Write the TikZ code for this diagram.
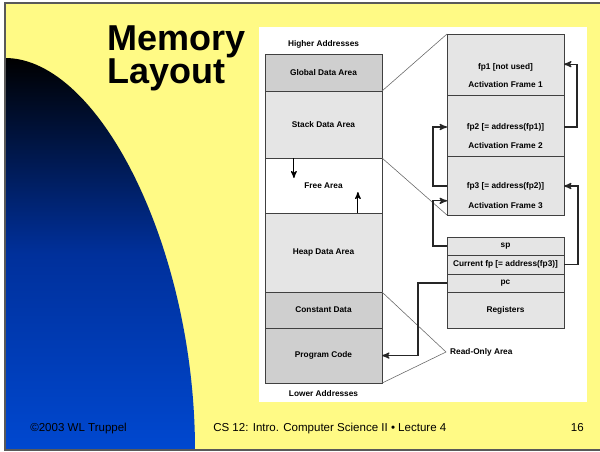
\documentclass[tikz,border=0pt]{standalone}
\usepackage{fontspec}
\setmainfont{Liberation Sans}
\usetikzlibrary{arrows}
\usetikzlibrary{positioning}
\newcommand{\cellfont}{\fontsize{5.9}{7}\selectfont\bfseries}
\definecolor{slideyellow}{RGB}{255,250,133}
\definecolor{slideblue}{RGB}{0,72,208}
\tikzset{
    tnode/.style = {align=center, inner sep=0pt, outer sep=0pt, text centered, font=\cellfont},
    cell/.style = {tnode, rectangle, draw=black!75, line width=0.5pt, minimum width=2.925cm},
    gray_cell/.style = {cell, fill=black!19},
    light_cell/.style = {cell, fill=black!10},
    white_cell/.style = {cell, fill=white},
    link/.style = {->, >=stealth', line width=0.9pt, draw=black!85},
    zoom_line/.style = {draw=black!60, line width=0.4pt},
    foot/.style = {inner sep=0pt, anchor=base west, font=\fontsize{8.2}{9}\selectfont}
}
\begin{document}
\begin{tikzpicture}[x=0.025cm, y=-0.025cm]
    \useasboundingbox (0,0) rectangle (600,452);
    \fill[white] (0,0) rectangle (600,452);
    \fill[slideyellow] (5,3) rectangle (600,450);
    \shade[top color=black, bottom color=slideblue, middle color={rgb,255:red,0;green,48;blue,155}]
        (5,450) -- (5,58) .. controls (100,58) and (195,250) .. (195,450) -- cycle;
    \draw[black!65, line width=1pt] (600,3) -- (5,3) -- (5,450) -- (600,450);
    \fill[white] (259,27) rectangle (587,402);

    \node[inner sep=0pt, anchor=north west, align=left, font=\fontsize{25.6}{19.8}\selectfont\bfseries] (title) at (107,25) {Memory\\Layout};

    \node[gray_cell, minimum height=0.925cm, anchor=north west] (global) at (265,54) {Global Data Area};
    \node[light_cell, minimum height=1.675cm, below=0pt of global] (stack) {Stack Data Area};
    \node[white_cell, minimum height=1.375cm, below=0pt of stack] (free) {Free Area};
    \node[light_cell, minimum height=1.975cm, below=0pt of free] (heap) {Heap Data Area};
    \node[gray_cell, minimum height=0.9cm, below=0pt of heap] (const) {Constant Data};
    \node[gray_cell, minimum height=1.375cm, below=0pt of const] (code) {Program Code};
    \node[tnode, above=4pt of global] (high) {Higher Addresses};
    \node[tnode, below=5pt of code] (low) {Lower Addresses};
    \draw[->, >=stealth', line width=0.8pt] ([xshift=-0.74cm]free.north) -- ++(0,20);
    \draw[->, >=stealth', line width=0.8pt] ([xshift=0.86cm]free.south) -- ++(0,-21);

    \node[light_cell, minimum height=1.525cm, anchor=north west] (af1) at (447,34) {};
    \node[light_cell, minimum height=1.525cm, below=0pt of af1] (af2) {};
    \node[light_cell, minimum height=1.475cm, below=0pt of af2] (af3) {};
    \node[tnode] (fp1) at ([yshift=-0.825cm]af1.north) {fp1 [not used]};
    \node[tnode] (af1txt) at ([yshift=-1.275cm]af1.north) {Activation Frame 1};
    \node[tnode] (fp2) at ([yshift=-0.8cm]af2.north) {fp2 [= address(fp1)]};
    \node[tnode] (af2txt) at ([yshift=-1.275cm]af2.north) {Activation Frame 2};
    \node[tnode] (fp3) at ([yshift=-0.75cm]af3.north) {fp3 [= address(fp2)]};
    \node[tnode] (af3txt) at ([yshift=-1.225cm]af3.north) {Activation Frame 3};

    \node[light_cell, minimum height=0.45cm, anchor=north west] (sp) at (447,237) {sp};
    \node[light_cell, minimum height=0.475cm, below=0pt of sp] (curfp) {Current fp [= address(fp3)]};
    \node[light_cell, minimum height=0.45cm, below=0pt of curfp] (pc) {pc};
    \node[light_cell, minimum height=0.9cm, below=0pt of pc] (regs) {Registers};

    \draw[zoom_line] (global.south east) -- (af1.north west);
    \draw[zoom_line] (stack.south east) -- (af3.south west);
    \coordinate (ro) at (446,352);
    \draw[zoom_line] (const.north east) -- (ro) -- (code.south east);
    \node[tnode, anchor=west] (rotxt) at ([xshift=3pt]ro) {Read-Only Area};

    \draw[link] (af2.east |- fp2) -- ++(13,0) |- ([yshift=2pt]af1.east |- fp1);
    \draw[link] (af3.west |- fp3) -- ++(-14,0) |- (af2.west |- fp2);
    \draw[link] (sp.west) -- ++(-14,0) |- ([yshift=3pt]af3.west |- af3txt);
    \draw[link] (curfp.east) -- ++(14,0) |- (af3.east |- fp3);
    \draw[link] (pc.west) -- ++(-29,0) |- (code.east);

    \node[foot] (copy) at (30,432) {©2003 WL Truppel};
    \node[foot] (course) at (213,432) {CS 12: Intro. Computer Science II • Lecture 4};
    \node[foot, anchor=base east] (page) at (584,432) {16};
\end{tikzpicture}
\end{document}
